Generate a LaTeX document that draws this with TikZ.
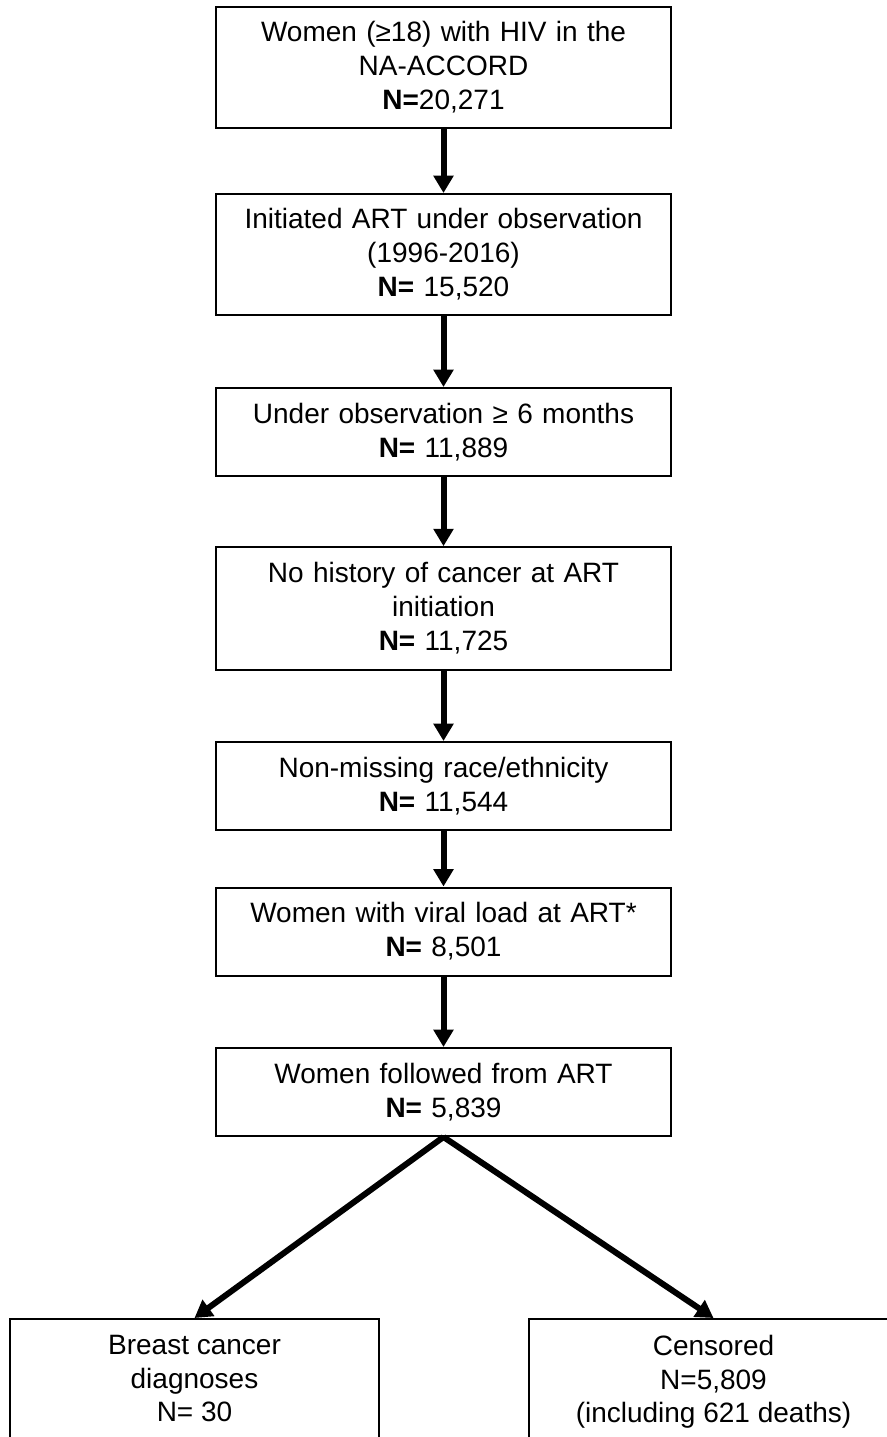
\documentclass[tikz,border=0pt]{standalone}
\usepackage{fontspec}
\setmainfont{Liberation Sans}
\usetikzlibrary{arrows.meta,positioning}

\tikzset{
  box/.style={draw,line width=1.5pt,text width=331pt,inner xsep=5pt,align=center,
    font=\fontsize{21}{25.5}\selectfont},
  endbox/.style={draw,line width=1.5pt,minimum width=276.75pt,minimum height=130pt,anchor=north},
  endtext/.style={inner sep=0pt,align=center,font=\fontsize{21}{25}\selectfont},
  arr/.style={line width=4.5pt,-{Triangle[width=14.5pt,length=13pt]}}
}

\begin{document}
\begin{tikzpicture}[x=0.75pt,y=-0.75pt]
        \useasboundingbox (0,0) rectangle (887,1437);
        \node[box,minimum height=90.75pt] (women) at (443.5,67.5) {Women (≥18) with HIV in the\\NA-ACCORD\\\textbf{N=}20,271};
        \node[box,minimum height=90.75pt] (art) at (443.5,254.5) {Initiated ART under observation\\(1996-2016)\\\textbf{N=} 15,520};
        \node[box,minimum height=66pt] (obs) at (443.5,432) {Under observation ≥ 6 months\\\textbf{N=} 11,889};
        \node[box,minimum height=92pt] (nocancer) at (443.5,608.5) {No history of cancer at ART\\initiation\\\textbf{N=} 11,725};
        \node[box,minimum height=66pt] (race) at (443.5,786) {Non-missing race/ethnicity\\\textbf{N=} 11,544};
        \node[box,minimum height=66pt] (viral) at (443.5,931.5) {Women with viral load at ART*\\\textbf{N=} 8,501};
        \node[box,minimum height=66pt] (follow) at (443.5,1092) {Women followed from ART\\\textbf{N=} 5,839};
        % outcome boxes (cut off at the bottom)
        \node[endbox] (breast) at (194.5,1318) {};
        \node[endbox] (censor) at (713.5,1318) {};
        \node[endtext,below=13pt of breast.north] (breasttxt) {Breast cancer\\diagnoses\\N= 30};
        \node[endtext,below=13pt of censor.north] (censortxt) {Censored\\N=5,809\\(including 621 deaths)};
        % arrows
        \draw[arr] (women) -- (art);
        \draw[arr] (art) -- (obs);
        \draw[arr] (obs) -- (nocancer);
        \draw[arr] (nocancer) -- (race);
        \draw[arr] (race) -- (viral);
        \draw[arr] (viral) -- (follow);
        \draw[arr] (follow.south) -- (breast.north);
        \draw[arr] (follow.south) -- (censor.north);
    \end{tikzpicture}
\end{document}
